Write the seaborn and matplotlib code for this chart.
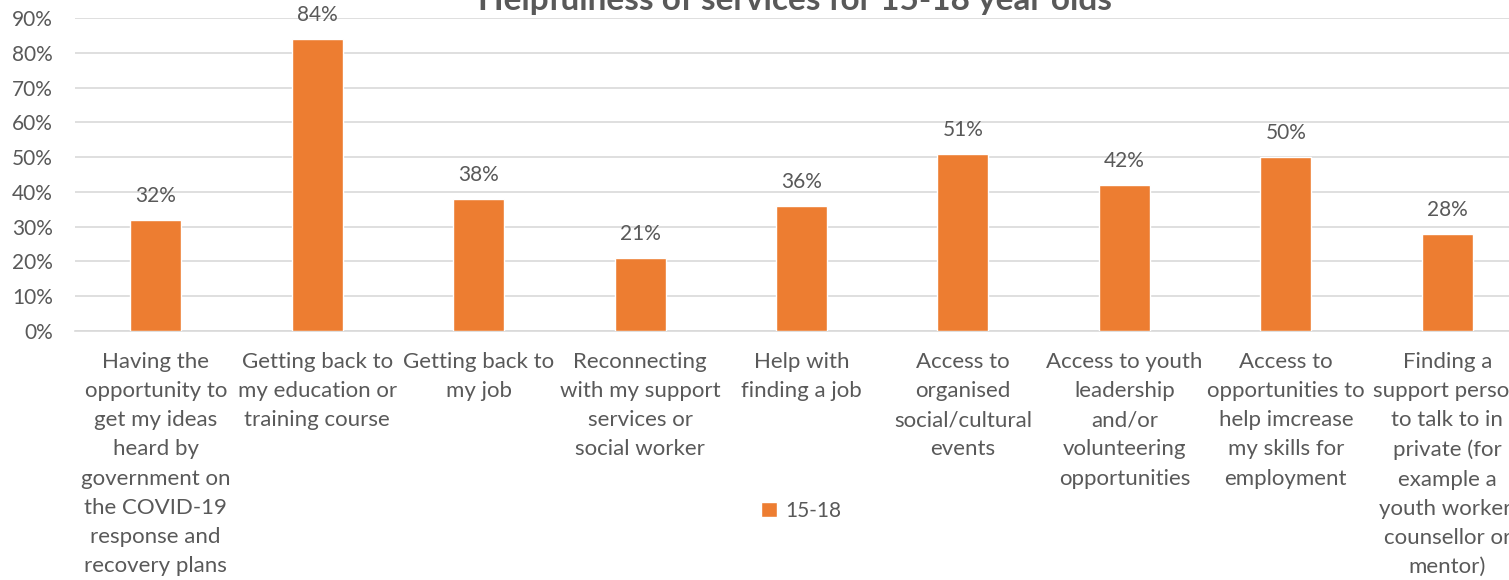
import matplotlib
matplotlib.use("Agg")
import matplotlib.pyplot as plt
import seaborn as sns
import pandas as pd
from matplotlib.patches import Patch

categories = [
    "Having the\nopportunity to\nget my ideas\nheard by\ngovernment on\nthe COVID-19\nresponse and\nrecovery plans",
    "Getting back to\nmy education or\ntraining course",
    "Getting back to\nmy job",
    "Reconnecting\nwith my support\nservices or\nsocial worker",
    "Help with\nfinding a job",
    "Access to\norganised\nsocial/cultural\nevents",
    "Access to youth\nleadership\nand/or\nvolunteering\nopportunities",
    "Access to\nopportunities to\nhelp imcrease\nmy skills for\nemployment",
    "Finding a\nsupport person\nto talk to in\nprivate (for\nexample a\nyouth worker,\ncounsellor or\nmentor)",
]
values_15_18 = [32, 84, 38, 21, 36, 51, 42, 50, 28]
series_name = "15-18"
title = "Helpfulness of services for 15-18 year olds"
y_ticks = [0, 10, 20, 30, 40, 50, 60, 70, 80, 90]

ORANGE = "#ED7D31"
TEXT = "#595959"
GRID = "#D9D9D9"

sns.set_theme(style="white")
plt.rcParams["font.family"] = ["Lato", "DejaVu Sans"]

df = pd.DataFrame({"category": categories, "value": values_15_18})

W, H = 1509, 580
fig = plt.figure(figsize=(W / 100, H / 100), dpi=100)
ax = fig.add_axes([75 / W, 249 / H, (1528 - 75) / W, (562 - 249) / H])

sns.barplot(data=df, x="category", y="value", color=ORANGE, width=0.316,
            saturation=1, ax=ax, zorder=3)

ax.set_ylim(0, 90)
ax.set_xlim(-0.5, len(categories) - 0.5)
ax.set_yticks(y_ticks)
ax.set_yticklabels([f"{t}%" for t in y_ticks])
ax.set_xlabel("")
ax.set_ylabel("")
ax.yaxis.grid(True, color=GRID, linewidth=1.2, zorder=0)
ax.set_axisbelow(True)
for side in ["top", "right", "left"]:
    ax.spines[side].set_visible(False)
ax.spines["bottom"].set_color(GRID)
ax.spines["bottom"].set_linewidth(1.2)
ax.tick_params(axis="y", length=0, pad=16, labelsize=15, labelcolor=TEXT)
ax.tick_params(axis="x", length=0, pad=15, labelsize=16, labelcolor=TEXT)
for lbl in ax.get_xticklabels():
    lbl.set_linespacing(1.575)
    lbl.set_multialignment("center")

ax.bar_label(ax.containers[0], labels=[f"{v}%" for v in values_15_18],
             padding=10, fontsize=15, color=TEXT)

fig.text(795 / W, 1 - 10 / H, title, ha="center", va="baseline",
         fontsize=24, fontweight="bold", color=TEXT)

leg = fig.legend(handles=[Patch(facecolor=ORANGE, label=series_name)],
                 loc="center", bbox_to_anchor=(801 / W, 1 - 511 / H),
                 frameon=False, fontsize=15, handlelength=0.75, handleheight=0.75,
                 handletextpad=0.4, labelcolor=TEXT)

fig.savefig("out.png", dpi=100)
